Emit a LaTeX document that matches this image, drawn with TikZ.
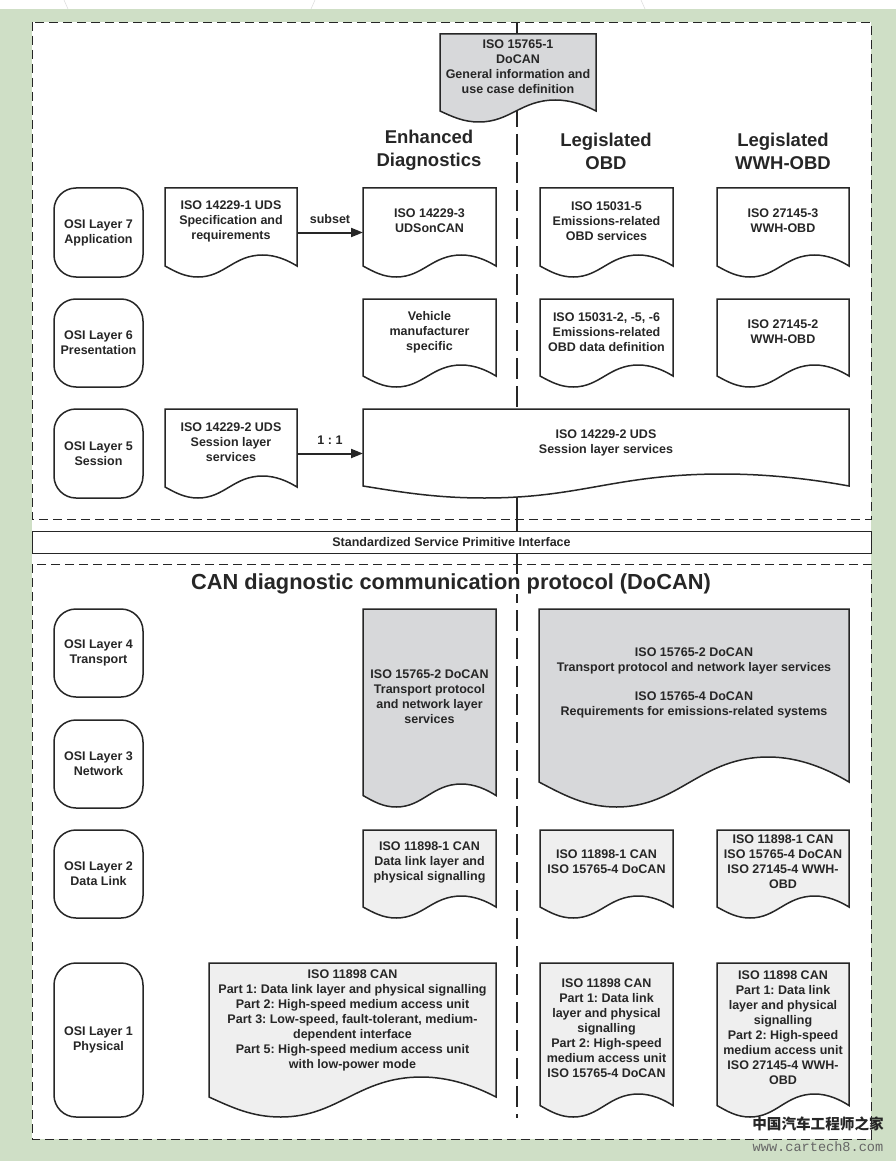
\documentclass[tikz,border=0pt]{standalone}
\usepackage{fontspec}
\setmainfont{Liberation Sans}
\newfontfamily\cjkfont{Noto Sans CJK SC}
\newfontfamily\wwwfont{Liberation Mono}
\usetikzlibrary{arrows.meta}

\definecolor{pagegreen}{HTML}{CFDFC6}
\definecolor{docgray}{HTML}{D7D8DA}
\definecolor{dothatch}{HTML}{EFEFEF}
\definecolor{inkdark}{HTML}{262626}

\newcommand{\bodystrut}{\rule{0pt}{15pt}}
\newcommand{\headstrut}{\rule[-4.5pt]{0pt}{18pt}}

\tikzset{
  bodyfont/.style={text=inkdark, font=\bfseries\frenchspacing\fontsize{12.5}{15}\selectfont,
    execute at begin node=\bodystrut, execute at end node=\bodystrut},
  frame/.style={draw=inkdark, line width=0.9pt, dash pattern=on 9pt off 5pt},
  midline/.style={draw=inkdark, line width=1.6pt, dash pattern=on 21pt off 7pt},
  layerbox/.style={draw=inkdark, line width=1.5pt, rounded corners=22pt, minimum width=89pt, align=center,
    inner sep=0pt, bodyfont},
  docshape/.style={draw=inkdark, line width=1.5pt},
  docanchor/.style={inner sep=0pt, outer sep=0pt},
  doctext/.style={align=center, inner sep=0pt, bodyfont},
  headtext/.style={align=center, inner sep=0pt, text=inkdark, font=\bfseries\fontsize{18.5}{23}\selectfont,
    execute at begin node=\headstrut, execute at end node=\headstrut},
  link/.style={draw=inkdark, line width=2pt, -{Triangle[length=12pt,width=9pt]}},
  linklabel/.style={inner sep=0pt, bodyfont}
}

% name, left, top, width, height, fill, text offset, text, wave depth
\newcommand{\docbox}[9]{
  \begin{scope}[shift={(#2,#3)}, x=#4pt]
    \pgfmathsetmacro{\waveend}{#5-#9/2}
    \pgfmathsetmacro{\wavetop}{#5-#9}
    \pgfmathsetmacro{\waveup}{#5-#9*0.76}
    \pgfmathsetmacro{\wavedown}{#5-#9*0.24}
    \path[docshape, fill=#6] (0,0) -- (1,0) -- (1,\waveend)
      .. controls (0.93,\waveup) and (0.84,\wavetop) .. (0.74,\wavetop)
      .. controls (0.52,\wavetop) and (0.45,#5) .. (0.25,#5)
      .. controls (0.15,#5) and (0.08,\wavedown) .. (0,\waveend) -- cycle;
    \node[docanchor, minimum width=#4pt, minimum height=#5pt] (#1) at (0.5,{#5/2}) {};
    \node[doctext] (#1text) at (0.5,#7) {#8};
  \end{scope}
}

\begin{document}
\begin{tikzpicture}[x=1pt, y=-1pt]
  \useasboundingbox (0,0) rectangle (896,1161);

  % Draw page background
  \fill[white] (0,0) rectangle (896,9);
  \fill[pagegreen] (0,9) rectangle (896,1161);
  \fill[white] (32,22) rectangle (871,1139);
  \foreach \xa/\xb in {64/68,315/311,641/645}
    \draw[black!12, line width=0.6pt] (\xa,0) -- (\xb,9);

  % Draw frames
  \draw[frame] (32,22) rectangle (871,519);
  \draw[frame] (32,564) rectangle (871,1139);

  % Draw centre line
  \coordinate (midtop) at (517,22);
  \coordinate (midbottom) at (517,1118);
  \draw[midline] (midtop) -- (midbottom);

  % Draw interface bar
  \node[draw=inkdark, line width=1pt, fill=white, minimum width=839pt, minimum height=22pt, inner sep=0pt,
    text=inkdark, font=\bfseries\fontsize{12.5}{15}\selectfont] (iface) at (451.5,542)
    {Standardized Service Primitive Interface};
  \draw[midline, dash pattern=on 12pt off 0pt] (517,519) -- (517,531);
  \draw[midline, dash pattern=on 12pt off 0pt] (517,553) -- (517,570);

  % Draw OSI layers
  \foreach \n/\t/\y/\h in {7/Application/188/89, 6/Presentation/299/88, 5/Session/409/89,
      4/Transport/609/88, 3/Network/720/88, 2/Data Link/830/88, 1/Physical/963/154}
    \node[layerbox, minimum height=\h pt] (osi\n) at (98.5,{\y+\h/2}) {OSI Layer \n\\\t};

  % Draw headings
  \node[headtext] (headenh) at (429,150.5) {Enhanced\\Diagnostics};
  \node[headtext] (headobd) at (606,153.5) {Legislated\\OBD};
  \node[headtext] (headwwh) at (783,153.5) {Legislated\\WWH-OBD};
  \node[inner sep=0pt, fill=white, text=inkdark, font=\bfseries\fontsize{21.8}{26}\selectfont] (headcan) at (451,584)
    {CAN diagnostic communication protocol (DoCAN)};

  % Draw top document
  \docbox{docan1}{440}{34}{156}{88}{docgray}{32.5}{ISO 15765-1\\DoCAN\\General information and\\use case definition}{22}

  % Draw upper documents
  \docbox{uds1}{165}{188}{132}{89}{white}{33}{ISO 14229-1 UDS\\Specification and\\requirements}{22}
  \docbox{udscan}{363}{188}{133}{89}{white}{32.5}{ISO 14229-3\\UDSonCAN}{22}
  \docbox{obd5}{540}{188}{133}{89}{white}{33}{ISO 15031-5\\Emissions-related\\OBD services}{22}
  \docbox{wwh3}{717}{188}{132}{89}{white}{32.5}{ISO 27145-3\\WWH-OBD}{22}
  \docbox{vms}{363}{299}{133}{88}{white}{33}{Vehicle\\manufacturer\\specific}{22}
  \docbox{obddata}{540}{299}{133}{88}{white}{33}{ISO 15031-2, -5, -6\\Emissions-related\\OBD data definition}{22}
  \docbox{wwh2}{717}{299}{132}{88}{white}{32.5}{ISO 27145-2\\WWH-OBD}{22}
  \docbox{uds2}{165}{409}{132}{89}{white}{33}{ISO 14229-2 UDS\\Session layer\\services}{22}
  \docbox{session}{363}{409}{486}{89}{white}{33.5}{ISO 14229-2 UDS\\Session layer services}{24}

  % Draw connectors
  \draw[link] (uds1.east) -- node[linklabel, above=8pt] (subsetlabel) {subset} (udscan.west);
  \draw[link] (uds2.east) -- node[linklabel, above=8pt] (ratiolabel) {1 : 1} (session.west);

  % Draw transport documents
  \docbox{tpenh}{363}{609}{133}{198}{docgray}{87.5}{ISO 15765-2 DoCAN\\Transport protocol\\and network layer\\services}{23}
  \docbox{tpobd}{539}{609}{310}{198}{docgray}{73.5}{ISO 15765-2 DoCAN\\Transport protocol and network layer services\\[14pt]ISO 15765-4 DoCAN\\Requirements for emissions-related systems}{50}

  % Draw data link documents
  \docbox{dlenh}{363}{830}{133}{88}{dothatch}{32}{ISO 11898-1 CAN\\Data link layer and\\physical signalling}{22}
  \docbox{dlobd}{540}{830}{133}{88}{dothatch}{32}{ISO 11898-1 CAN\\ISO 15765-4 DoCAN}{22}
  \docbox{dlwwh}{717}{830}{132}{88}{dothatch}{32}{ISO 11898-1 CAN\\ISO 15765-4 DoCAN\\ISO 27145-4 WWH-\\OBD}{22}

  % Draw physical documents
  \docbox{phenh}{209}{963}{287}{154}{dothatch}{57}{ISO 11898 CAN\\Part 1: Data link layer and physical signalling\\Part 2: High-speed medium access unit\\Part 3: Low-speed, fault-tolerant, medium-\\dependent interface\\Part 5: High-speed medium access unit\\with low-power mode}{40}
  \docbox{phobd}{540}{963}{133}{154}{dothatch}{65}{ISO 11898 CAN\\Part 1: Data link\\layer and physical\\signalling\\Part 2: High-speed\\medium access unit\\ISO 15765-4 DoCAN}{23}
  \docbox{phwwh}{717}{963}{132}{154}{dothatch}{65}{ISO 11898 CAN\\Part 1: Data link\\layer and physical\\signalling\\Part 2: High-speed\\medium access unit\\ISO 27145-4 WWH-\\OBD}{23}

  % Draw site mark
  \node[inner sep=0pt, text=inkdark, font=\cjkfont\bfseries\fontsize{14.6}{16}\selectfont] (markcn) at (818,1124) {中国汽车工程师之家};
  \node[inner sep=0pt, text=black!60, font=\wwwfont\fontsize{13.6}{16}\selectfont] (markweb) at (818,1147) {www.cartech8.com};
\end{tikzpicture}
\end{document}
